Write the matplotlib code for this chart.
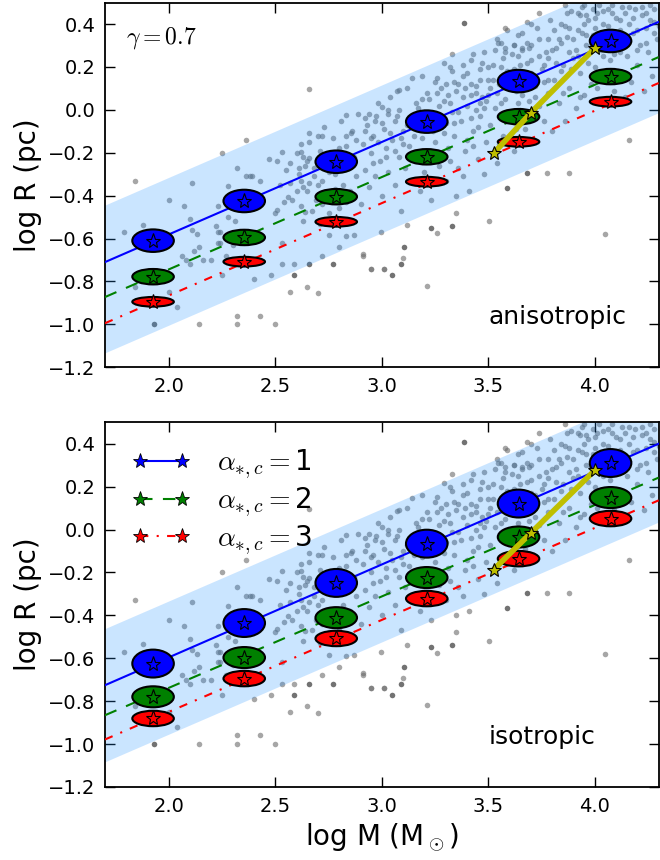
import matplotlib
matplotlib.use('Agg')
import matplotlib.pyplot as plt
from matplotlib.patches import Ellipse
from matplotlib.lines import Line2D

plt.rcParams['mathtext.fontset'] = 'cm'

# cluster data points (log M, log R), shared by both panels
pts_x = [2.36, 2.25, 1.84, 2.32, 2.11, 2.36, 2.39, 2.28, 2.00, 2.07, 2.23, 2.10, 1.88, 1.79, 2.11,
         2.13, 2.22, 2.23, 2.24, 2.23, 2.24, 2.14, 2.12, 2.06, 2.08, 2.10, 2.16, 2.20, 2.25, 2.28,
         2.31, 2.27, 2.30, 2.00, 1.84, 2.04, 2.14, 2.32, 2.32, 2.43, 2.50, 2.57, 2.65, 2.70,
         2.66, 2.83, 3.00, 3.07, 2.92, 2.975, 3.03, 3.06, 2.66, 2.70, 2.83, 2.855, 2.95, 2.62,
         2.53, 2.47, 2.51, 2.62, 2.57, 2.61, 2.64, 2.66, 2.68, 2.66, 2.63, 2.60, 2.56, 2.57,
         2.54, 2.43, 2.38, 2.50, 2.51, 2.62, 2.64, 2.63, 2.72, 2.75, 2.71, 2.75, 2.83, 2.87,
         2.53, 2.80, 2.72, 2.91, 2.53, 2.59, 2.95, 3.01, 2.48, 2.40, 2.996, 3.33, 3.505, 3.775,
         3.88, 4.16, 4.05, 3.35, 3.12, 3.10, 3.01, 2.95, 3.21, 2.91, 3.26,
         3.29, 3.25, 3.19, 3.14, 3.08, 3.43, 3.545, 3.58, 3.62, 3.66, 3.69,
         2.61, 2.63, 2.65, 2.66, 2.68, 2.69, 2.71, 2.72, 2.73, 2.74, 2.76, 2.77, 2.78, 2.79, 2.80,
         2.81, 2.82, 2.83, 2.84, 2.85, 2.86, 2.87, 2.88, 2.89, 2.90,
         2.91, 2.92, 2.93, 2.94, 2.95, 2.96, 2.97, 2.98, 2.99, 3.00, 3.01, 3.02, 3.03, 3.04, 3.05,
         3.06, 3.07, 3.08, 3.09, 3.10, 3.11, 3.12, 3.13, 3.14, 3.15, 3.16, 3.17, 3.18, 3.19, 3.20,
         3.21, 3.22, 3.23, 3.24, 3.25,
         3.26, 3.27, 3.28, 3.29, 3.30, 3.31, 3.32, 3.33, 3.34, 3.35, 3.36, 3.37, 3.38, 3.39, 3.40,
         3.41, 3.42, 3.43, 3.44, 3.45, 3.46, 3.47, 3.48, 3.49, 3.50, 3.32, 3.36, 3.40, 3.44, 3.48,
         3.29, 3.35, 3.42, 3.46, 3.38, 3.31, 3.45, 3.49, 3.27, 3.43,
         3.51, 3.52, 3.53, 3.54, 3.55, 3.56, 3.57, 3.58, 3.59, 3.60, 3.61, 3.62, 3.63, 3.64, 3.65,
         3.66, 3.67, 3.68, 3.69, 3.70, 3.71, 3.72, 3.73, 3.74, 3.75, 3.76, 3.77, 3.78, 3.79, 3.80,
         3.53, 3.57, 3.61, 3.66, 3.70, 3.74, 3.78, 3.55, 3.63, 3.72, 3.76, 3.59, 3.68, 3.51, 3.65,
         3.81, 3.82, 3.83, 3.84, 3.85, 3.86, 3.87, 3.88, 3.89, 3.90, 3.91, 3.92, 3.93, 3.94, 3.95,
         3.96, 3.97, 3.98, 3.99, 4.00, 4.01, 4.02, 4.03, 4.04, 4.05, 4.06, 4.07, 4.08, 4.09, 4.10,
         3.83, 3.87, 3.91, 3.95, 3.99, 4.03, 3.85, 3.93, 4.01, 3.89, 3.97, 4.05, 4.09, 3.81, 3.93,
         4.11, 4.12, 4.13, 4.14, 4.15, 4.16, 4.17, 4.18, 4.19, 4.20, 4.21, 4.22, 4.23, 4.24, 4.25,
         4.26, 4.27, 4.28, 4.29, 4.12,
         2.92, 2.94, 2.96, 2.98, 3.00, 3.02, 3.04, 3.06, 3.08, 3.10, 3.12, 3.14, 3.16, 3.18, 3.20,
         2.97, 3.03, 3.09, 3.15, 3.19,
         3.22, 3.24, 3.26, 3.28, 3.30, 3.32, 3.34, 3.36, 3.38, 3.40, 3.42, 3.44, 3.46, 3.48, 3.50,
         3.26, 3.30, 3.34, 3.38, 3.42, 3.46, 3.50, 3.33, 3.39, 3.47,
         3.52, 3.54, 3.56, 3.58, 3.60, 3.62, 3.64, 3.66, 3.68, 3.70, 3.72, 3.74, 3.76, 3.78, 3.80,
         3.54, 3.58, 3.62, 3.66, 3.70, 3.74, 3.78, 3.56, 3.64, 3.72,
         3.82, 3.84, 3.86, 3.88, 3.90, 3.92, 3.94, 3.96, 3.98, 4.00, 4.02, 4.04, 4.06, 4.08, 4.10,
         4.12, 4.14, 4.16, 4.18, 4.20, 4.22, 4.24, 4.26, 4.28, 4.30, 3.84, 3.88, 3.92, 3.96, 4.00,
         4.04, 4.08, 4.12, 4.16, 4.20, 4.24, 4.28, 3.86, 3.95, 4.02,
         2.52, 2.55, 2.58, 2.60, 2.62, 2.65, 2.67, 2.70, 2.72, 2.75, 2.78, 2.80, 2.83, 2.85, 2.88]
pts_y = [-0.14, -0.20, -0.33, -0.27, -0.34, -0.31, -0.31, -0.355, -0.42, -0.45, -0.45, -0.51, -0.535, -0.57, -0.56,
         -0.58, -0.54, -0.57, -0.57, -0.62, -0.62, -0.64, -0.66, -0.68, -0.70, -0.72, -0.70, -0.70, -0.77, -0.50,
         -0.52, -0.68, -0.63, -0.85, -0.825, -0.92, -1.00, -0.96, -1.00, -0.96, -1.00, -0.85, -0.825, -0.855,
         0.097, -0.024, 0.012, 0.088, -0.04, -0.03, -0.02, -0.05, -0.11, -0.12, -0.12, -0.11, -0.13, -0.16,
         -0.195, -0.23, -0.24, -0.195, -0.25, -0.27, -0.26, -0.225, -0.31, -0.34, -0.36, -0.38, -0.405, -0.34,
         -0.43, -0.33, -0.31, -0.48, -0.465, -0.45, -0.475, -0.52, -0.44, -0.48, -0.53, -0.585, -0.59, -0.585,
         -0.62, -0.64, -0.68, -0.67, -0.72, -0.72, -0.74, -0.74, -0.77, -0.79, -0.57, 0.26, -0.52, -0.296,
         -0.296, -0.14, -0.58, -0.48, -0.537, -0.69, -0.74, -0.74, -0.82, -0.68, -0.576,
         0.217, 0.13, 0.16, 0.147, 0.092, 0.26, 0.31, 0.29, 0.30, 0.28, 0.29,
         -0.30, -0.22, -0.38, -0.15, -0.27, -0.42, -0.19, -0.33, -0.08, -0.24, -0.40, -0.13, -0.30, -0.21, -0.46,
         -0.05, -0.35, -0.17, -0.27, -0.38, -0.10, -0.22, -0.31, -0.02, -0.44,
         -0.16, -0.28, -0.07, -0.36, -0.20, -0.12, -0.31, 0.03, -0.24, -0.40, -0.09, -0.18, -0.29, 0.06, -0.14,
         -0.35, -0.03, -0.22, -0.47, -0.10, -0.27, 0.10, -0.17, -0.33, -0.05, -0.24, 0.01, -0.38, -0.13, -0.29,
         0.08, -0.20, -0.42, -0.02, -0.15,
         0.15, -0.26, -0.08, 0.04, -0.33, -0.18, 0.20, -0.01, -0.12, 0.09, -0.27, -0.05, 0.16, -0.19, 0.02,
         -0.38, 0.23, -0.10, 0.11, -0.23, -0.03, 0.06, 0.27, -0.15, 0.14, -0.24, 0.12, -0.14, 0.00, -0.30,
         -0.11, -0.40, 0.07, 0.19, -0.31, 0.07, -0.08, 0.04, 0.02, -0.17,
         -0.07, 0.21, 0.01, -0.25, 0.12, 0.31, -0.12, 0.05, 0.18, -0.03, 0.26, -0.19, 0.09, 0.35, 0.00,
         0.15, -0.09, 0.22, 0.04, 0.30, -0.14, 0.11, 0.38, 0.02, 0.19, -0.05, 0.27, 0.08, 0.42, -0.10,
         0.28, 0.24, 0.13, 0.29, 0.17, 0.25, 0.33, -0.16, -0.09, -0.02, 0.13, 0.37, 0.41, 0.10, 0.21,
         0.14, 0.29, 0.03, 0.40, 0.21, -0.05, 0.34, 0.10, 0.46, 0.24, 0.01, 0.37, 0.17, 0.48, 0.07,
         0.30, 0.42, 0.12, 0.35, 0.20, 0.45, 0.04, 0.28, 0.40, 0.15, 0.47, 0.23, 0.36, 0.09, 0.43,
         0.33, 0.45, 0.28, 0.40, 0.47, 0.36, 0.08, 0.06, 0.10, 0.19, 0.22, 0.31, 0.26, 0.37, 0.44,
         0.18, 0.32, 0.48, 0.06, 0.25, 0.40, 0.13, 0.36, 0.47, 0.21, 0.30, 0.44, 0.09, 0.38, 0.27,
         0.49, 0.16, 0.41, 0.33, 0.42,
         -0.10, -0.02, -0.25, -0.15, -0.06, -0.22, -0.11, -0.19, 0.00, -0.16, -0.07, -0.23, 0.03, -0.09, -0.01,
         -0.05, 0.00, -0.13, -0.12, 0.05,
         0.05, -0.10, -0.03, 0.10, -0.06, 0.03, 0.13, -0.01, 0.06, 0.17, -0.04, 0.08, 0.14, 0.01, 0.20,
         0.08, 0.12, -0.06, 0.21, 0.12, 0.03, 0.07, 0.18, 0.10, 0.22,
         0.14, 0.08, 0.20, 0.27, 0.12, 0.19, 0.25, 0.07, 0.31, 0.23, 0.16, 0.33, 0.21, 0.14, 0.28,
         0.33, 0.38, 0.30, 0.36, 0.40, 0.45, 0.24, 0.03, 0.03, 0.06,
         0.22, 0.31, 0.39, 0.27, 0.33, 0.25, 0.36, 0.44, 0.29, 0.38, 0.33, 0.46, 0.39, 0.45, 0.35,
         0.27, 0.45, 0.32, 0.43, 0.37, 0.48, 0.31, 0.42, 0.47, 0.39, 0.18, 0.38, 0.45, 0.35, 0.43,
         0.25, 0.49, 0.37, 0.48, 0.28, 0.45, 0.36, 0.49, 0.49, 0.49,
         -0.35, -0.28, -0.42, -0.20, -0.33, -0.24, -0.47, -0.35, -0.12, -0.29, -0.37, -0.18, -0.43, -0.25, -0.14]

# darker outliers
dark_x = [1.93, 2.59, 2.66, 2.77, 3.05, 3.09, 3.105, 3.23, 3.33, 3.385, 3.59, 3.68]
dark_y = [-1.00, -0.77, -0.72, -0.72, -0.77, -0.72, -0.64, -0.55, -0.54, 0.406, -0.366, -0.296]

# mass bins (log M centres), width of the error ellipses
ell_x = [1.926, 2.354, 2.786, 3.211, 3.642, 4.074]
ell_w = 0.195

# panel 1: anisotropic, panel 2: isotropic
blue_y = [[-0.61, -0.425, -0.242, -0.055, 0.134, 0.321],
          [-0.625, -0.436, -0.249, -0.066, 0.121, 0.31]]
green_y = [[-0.778, -0.595, -0.405, -0.219, -0.032, 0.155],
           [-0.78, -0.597, -0.411, -0.224, -0.035, 0.149]]
red_y = [[-0.895, -0.708, -0.522, -0.335, -0.149, 0.038],
         [-0.881, -0.695, -0.508, -0.322, -0.136, 0.051]]
ell_h = [[0.105, 0.072, 0.045],
         [0.13, 0.098, 0.072]]

# fit lines at x = 1.7 and 4.3
line_x = [1.7, 4.3]
blue_line = [[-0.71, 0.41], [-0.726, 0.40]]
green_line = [[-0.873, 0.246], [-0.866, 0.242]]
red_line = [[-0.995, 0.125], [-0.979, 0.136]]
band_up = [[-0.444, 0.676], [-0.462, 0.656]]
band_lo = [[-1.133, -0.013], [-1.083, 0.035]]

# yellow track
track_x = [3.525, 3.70, 4.0]
track_y = [[-0.203, -0.0135, 0.287], [-0.187, -0.016, 0.276]]

panel_text = ['anisotropic', 'isotropic']
labels = [r'$\alpha_{*,c}=$1', r'$\alpha_{*,c}=$2', r'$\alpha_{*,c}=$3']

fig = plt.figure(figsize=(6.6, 8.6), dpi=100)
ax1 = fig.add_axes([0.159, 0.573, 0.839, 0.424])
ax2 = fig.add_axes([0.159, 0.085, 0.839, 0.424])

for k, ax in enumerate([ax1, ax2]):
    ax.scatter(pts_x, pts_y, s=16, color='0.42', alpha=0.6, linewidths=0, zorder=1)
    ax.scatter(dark_x, dark_y, s=16, color='0.35', alpha=0.85, linewidths=0, zorder=1)
    ax.fill_between(line_x, band_lo[k], band_up[k], color='dodgerblue', alpha=0.23,
                    linewidth=0, zorder=2)
    ax.plot(line_x, blue_line[k], color='blue', lw=1.5, zorder=3)
    ax.plot(line_x, green_line[k], color='green', lw=1.5, ls=(0, (6, 5)), zorder=3)
    ax.plot(line_x, red_line[k], color='red', lw=1.5, ls=(0, (4, 4, 1, 4)), zorder=3)

    for ys, col, h in [(blue_y[k], 'blue', ell_h[k][0]),
                       (green_y[k], 'green', ell_h[k][1]),
                       (red_y[k], 'red', ell_h[k][2])]:
        for xc, yc in zip(ell_x, ys):
            ax.add_patch(Ellipse((xc, yc), ell_w, h, facecolor=col, edgecolor='black',
                                 lw=1.5, zorder=4))
        ax.plot(ell_x, ys, ls='none', marker='*', ms=11, mfc=col, mec='black',
                mew=0.8, zorder=5)

    ax.plot(track_x, track_y[k], color='#bfbf00', lw=4, marker='*', ms=10,
            mfc='#bfbf00', mec='black', mew=0.8, zorder=6)

    ax.text(3.50, -1.0, panel_text[k], fontsize=18, va='baseline')

    ax.set_xlim(1.7, 4.3)
    ax.set_ylim(-1.2, 0.5)
    ax.set_xticks([2.0, 2.5, 3.0, 3.5, 4.0])
    ax.set_yticks([-1.2, -1.0, -0.8, -0.6, -0.4, -0.2, 0.0, 0.2, 0.4])
    ax.set_xticklabels(['2.0', '2.5', '3.0', '3.5', '4.0'])
    ax.set_yticklabels(['\u22121.2', '\u22121.0', '\u22120.8', '\u22120.6', '\u22120.4',
                        '\u22120.2', '0.0', '0.2', '0.4'])
    ax.tick_params(direction='in', top=True, right=True, length=7, width=1,
                   labelsize=14, pad=7)
    for sp in ax.spines.values():
        sp.set_linewidth(1.3)
    ax.set_ylabel('log R (pc)', fontsize=20)

ax1.text(1.80, 0.31, r'$\gamma=0.7$', fontsize=17, va='baseline')
ax2.set_xlabel(r'log M (M$_\odot$)', fontsize=20)

handles = [Line2D([], [], color='blue', lw=1.5, marker='*', ms=11, mec='black', mew=0.6),
           Line2D([], [], color='green', lw=1.5, ls=(0, (6, 5)), marker='*', ms=11,
                  mec='black', mew=0.6),
           Line2D([], [], color='red', lw=1.5, ls=(0, (4, 4, 1, 4)), marker='*', ms=11,
                  mec='black', mew=0.6)]
ax2.legend(handles, labels, loc='upper left', frameon=False, numpoints=2, fontsize=20,
           handlelength=2.1, handletextpad=0.95, labelspacing=0.15,
           bbox_to_anchor=(0.004, 0.998))

fig.savefig('out.png', dpi=100)
